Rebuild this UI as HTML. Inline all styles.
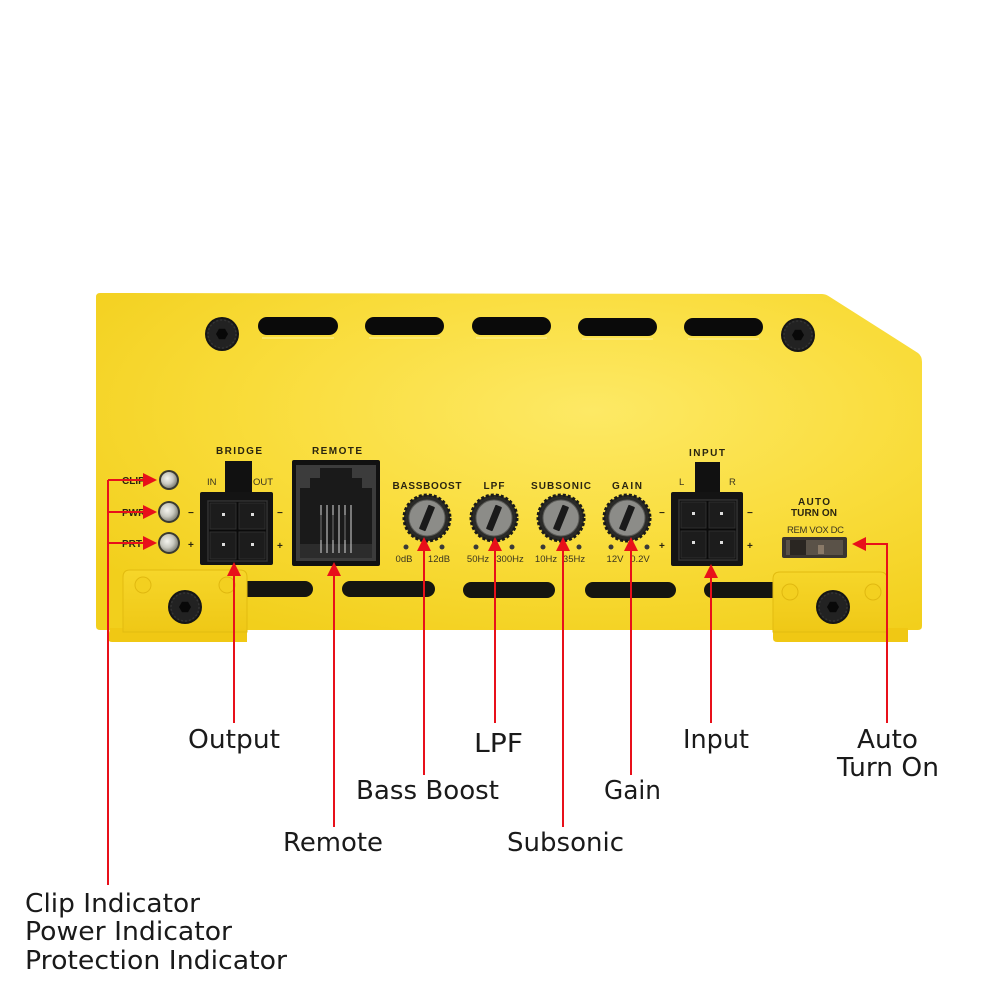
<!DOCTYPE html>
<html><head><meta charset="utf-8"><style>
html,body{margin:0;padding:0;background:#fff;}
svg{display:block;}
.lbl{font-family:"DejaVu Sans","Liberation Sans",sans-serif;font-size:26px;fill:#1a1a1a;}
.pt{font-family:"Liberation Sans",sans-serif;font-weight:bold;font-size:10px;fill:#2a2510;}
.pn{font-family:"Liberation Sans",sans-serif;font-size:9.5px;fill:#3a3520;}
</style></head><body>
<svg width="1000" height="1000" viewBox="0 0 1000 1000" xmlns="http://www.w3.org/2000/svg">
<defs>
<radialGradient id="yg" cx="0.6" cy="0.35" r="0.75">
<stop offset="0" stop-color="#fde965"/>
<stop offset="0.55" stop-color="#f9dc3a"/>
<stop offset="1" stop-color="#f2cf1c"/>
</radialGradient>
<linearGradient id="br" x1="0" y1="0" x2="0" y2="1">
<stop offset="0" stop-color="#f6d62a"/>
<stop offset="1" stop-color="#efc816"/>
</linearGradient>
<radialGradient id="led" cx="0.4" cy="0.4" r="0.6">
<stop offset="0" stop-color="#f4f4ee"/>
<stop offset="0.6" stop-color="#c9c9c0"/>
<stop offset="1" stop-color="#8a8a80"/>
</radialGradient>
<g id="screw">
<circle r="17" fill="#151515"/>
<circle r="15" fill="#222"/>
<circle r="14" fill="none" stroke="#333" stroke-width="1.5" stroke-dasharray="2 2"/>
<polygon points="6,0 3,5.2 -3,5.2 -6,0 -3,-5.2 3,-5.2" fill="#080808"/>
</g>
<g id="knob">
<circle r="23" fill="#2a2a28" stroke="#1a1a18" stroke-width="3" stroke-dasharray="3 2"/>
<circle r="18" fill="#8c8c88"/>
<circle r="18" fill="none" stroke="#5a5a56" stroke-width="1"/>
<rect x="-3.5" y="-13" width="7" height="26" rx="1" fill="#1a1a1a" transform="rotate(22)"/>
</g>
</defs>

<!-- body -->
<path d="M100,293 L822,294 Q826,294 830,297 L918,353 Q922,356 922,362 L922,626 Q922,630 918,630 L100,630 Q96,630 96,626 L96,297 Q96,293 100,293 Z" fill="url(#yg)"/>

<!-- top slots -->
<g fill="#0a0a0a">
<rect x="258" y="317" width="80" height="18" rx="9"/>
<rect x="365" y="317" width="79" height="18" rx="9"/>
<rect x="472" y="317" width="79" height="18" rx="9"/>
<rect x="578" y="318" width="79" height="18" rx="9"/>
<rect x="684" y="318" width="79" height="18" rx="9"/>
</g>
<g stroke="#fff08a" stroke-width="1.5" fill="none" opacity="0.8">
<path d="M262,338 H334"/><path d="M369,338 H440"/><path d="M476,338 H547"/><path d="M582,339 H653"/><path d="M688,339 H759"/>
</g>
<use href="#screw" x="222" y="334"/>
<use href="#screw" x="798" y="335"/>

<!-- lower slots -->
<g fill="#151510">
<rect x="240" y="581" width="73" height="16" rx="8"/>
<rect x="342" y="581" width="93" height="16" rx="8"/>
<rect x="463" y="582" width="92" height="16" rx="8"/>
<rect x="585" y="582" width="91" height="16" rx="8"/>
<rect x="704" y="582" width="90" height="16" rx="8"/>
</g>

<!-- left bracket -->
<path d="M110,628 L247,628 L247,642 L112,642 Q108,642 108,638 Z" fill="#f0c814"/>
<path d="M130,570 L240,570 Q247,570 247,577 L247,632 L123,632 L123,577 Q123,570 130,570 Z" fill="url(#br)" stroke="#e2bb10" stroke-width="1"/>
<circle cx="143" cy="585" r="8" fill="#f3d020" stroke="#e0b810" stroke-width="1"/>
<circle cx="227" cy="585" r="8" fill="#f3d020" stroke="#e0b810" stroke-width="1"/>
<use href="#screw" x="185" y="607"/>

<!-- right bracket -->
<path d="M773,628 L908,628 L908,642 L777,642 Q773,642 773,638 Z" fill="#f0c814"/>
<path d="M780,572 L880,572 Q887,572 887,579 L887,632 L773,632 L773,579 Q773,572 780,572 Z" fill="url(#br)" stroke="#e2bb10" stroke-width="1"/>
<circle cx="790" cy="592" r="8" fill="#f3d020" stroke="#e0b810" stroke-width="1"/>
<circle cx="873" cy="592" r="8" fill="#f3d020" stroke="#e0b810" stroke-width="1"/>
<use href="#screw" x="833" y="607"/>

<!-- LEDs -->
<g>
<circle cx="169" cy="480" r="10" fill="#3a3a30"/><circle cx="169" cy="480" r="8" fill="url(#led)"/>
<circle cx="169" cy="512" r="11" fill="#3a3a30"/><circle cx="169" cy="512" r="9" fill="url(#led)"/>
<circle cx="169" cy="543" r="11" fill="#3a3a30"/><circle cx="169" cy="543" r="9" fill="url(#led)"/>
</g>
<text class="pt" x="122" y="484">CLIP</text>
<text class="pt" x="122" y="516">PWR</text>
<text class="pt" x="122" y="547">PRT</text>
<text class="pt" x="188" y="516" font-size="13">−</text>
<text class="pt" x="188" y="548" font-size="13">+</text>

<!-- BRIDGE connector -->
<text class="pt" x="239" y="454" text-anchor="middle" textLength="46">BRIDGE</text>
<text class="pn" x="207" y="485">IN</text>
<text class="pn" x="253" y="485">OUT</text>
<rect x="225" y="461" width="27" height="34" fill="#111"/>
<rect x="200" y="492" width="73" height="73" rx="2" fill="#141414"/>
<rect x="208" y="501" width="59" height="60" fill="#0a0a0a" stroke="#333" stroke-width="1.5"/>
<rect x="210" y="503" width="26" height="26" fill="#1c1c1c" stroke="#2e2e2e"/>
<rect x="239" y="503" width="26" height="26" fill="#1c1c1c" stroke="#2e2e2e"/>
<rect x="210" y="532" width="26" height="27" fill="#1c1c1c" stroke="#2e2e2e"/>
<rect x="239" y="532" width="26" height="27" fill="#1c1c1c" stroke="#2e2e2e"/>
<g fill="#ddd"><rect x="222" y="513" width="3" height="3"/><rect x="251" y="513" width="3" height="3"/><rect x="222" y="543" width="3" height="3"/><rect x="251" y="543" width="3" height="3"/></g>
<text class="pt" x="277" y="516" font-size="13">−</text>
<text class="pt" x="277" y="549" font-size="13">+</text>

<!-- REMOTE jack -->
<text class="pt" x="337" y="454" text-anchor="middle" textLength="50">REMOTE</text>
<rect x="292" y="460" width="88" height="106" rx="2" fill="#111"/>
<rect x="296" y="465" width="80" height="96" fill="#3c3c3c"/>
<path d="M320,468 H352 V478 H362 V488 H372 V558 H300 V488 H310 V478 H320 Z" fill="#1a1a1a"/>
<rect x="300" y="544" width="72" height="14" fill="#2c2c2c"/>
<g stroke="#bbb" stroke-width="1.2">
<line x1="321" y1="505" x2="321" y2="553"/><line x1="327" y1="505" x2="327" y2="553"/><line x1="333" y1="505" x2="333" y2="553"/><line x1="339" y1="505" x2="339" y2="553"/><line x1="345" y1="505" x2="345" y2="553"/><line x1="351" y1="505" x2="351" y2="553"/>
</g>
<g stroke="#555" stroke-width="1"><line x1="321" y1="515" x2="321" y2="540"/><line x1="333" y1="515" x2="333" y2="540"/><line x1="345" y1="515" x2="345" y2="540"/></g>

<!-- knobs -->
<text class="pt" x="427" y="489" text-anchor="middle" textLength="69">BASSBOOST</text>
<text class="pt" x="494" y="489" text-anchor="middle" textLength="21">LPF</text>
<text class="pt" x="561" y="489" text-anchor="middle" textLength="60">SUBSONIC</text>
<text class="pt" x="627" y="489" text-anchor="middle" textLength="30">GAIN</text>
<use href="#knob" x="427" y="518"/>
<use href="#knob" x="494" y="518"/>
<use href="#knob" x="561" y="518"/>
<use href="#knob" x="627" y="518"/>
<g fill="#3a3a38">
<circle cx="406" cy="547" r="2.5"/><circle cx="442" cy="547" r="2.5"/>
<circle cx="476" cy="547" r="2.5"/><circle cx="512" cy="547" r="2.5"/>
<circle cx="543" cy="547" r="2.5"/><circle cx="579" cy="547" r="2.5"/>
<circle cx="611" cy="547" r="2.5"/><circle cx="647" cy="547" r="2.5"/>
</g>
<g class="pn" text-anchor="middle">
<text x="404" y="562">0dB</text><text x="439" y="562">12dB</text>
<text x="478" y="562">50Hz</text><text x="510" y="562">300Hz</text>
<text x="546" y="562">10Hz</text><text x="574" y="562">35Hz</text>
<text x="615" y="562">12V</text><text x="640" y="562">0.2V</text>
</g>
<text class="pt" x="659" y="516" font-size="13">−</text>
<text class="pt" x="659" y="549" font-size="13">+</text>

<!-- INPUT connector -->
<text class="pt" x="707" y="456" text-anchor="middle" textLength="36">INPUT</text>
<text class="pn" x="679" y="485">L</text>
<text class="pn" x="729" y="485">R</text>
<rect x="695" y="462" width="25" height="33" fill="#111"/>
<rect x="671" y="492" width="72" height="74" rx="2" fill="#141414"/>
<rect x="679" y="500" width="58" height="60" fill="#0a0a0a" stroke="#333" stroke-width="1.5"/>
<rect x="681" y="502" width="25" height="26" fill="#1c1c1c" stroke="#2e2e2e"/>
<rect x="709" y="502" width="26" height="26" fill="#1c1c1c" stroke="#2e2e2e"/>
<rect x="681" y="531" width="25" height="27" fill="#1c1c1c" stroke="#2e2e2e"/>
<rect x="709" y="531" width="26" height="27" fill="#1c1c1c" stroke="#2e2e2e"/>
<g fill="#ddd"><rect x="692" y="512" width="3" height="3"/><rect x="720" y="512" width="3" height="3"/><rect x="692" y="541" width="3" height="3"/><rect x="720" y="541" width="3" height="3"/></g>
<text class="pt" x="747" y="516" font-size="13">−</text>
<text class="pt" x="747" y="549" font-size="13">+</text>

<!-- AUTO TURN ON -->
<text class="pt" x="814" y="505" text-anchor="middle" textLength="32">AUTO</text>
<text class="pt" x="814" y="516" text-anchor="middle" textLength="46">TURN ON</text>
<text class="pn" x="787" y="533" textLength="57">REM VOX DC</text>
<rect x="782" y="537" width="65" height="21" rx="2" fill="#3a3530"/>
<rect x="786" y="540" width="57" height="15" fill="#5a5248"/>
<rect x="790" y="540" width="16" height="15" fill="#2a2622"/>
<rect x="818" y="545" width="6" height="9" fill="#8a7a68"/>

<!-- red callouts -->
<g stroke="#e8101a" stroke-width="2" fill="none">
<line x1="108" y1="480" x2="108" y2="885"/>
<line x1="108" y1="480" x2="145" y2="480"/>
<line x1="108" y1="512" x2="145" y2="512"/>
<line x1="108" y1="543" x2="145" y2="543"/>
<line x1="234" y1="572" x2="234" y2="723"/>
<line x1="334" y1="572" x2="334" y2="827"/>
<line x1="424" y1="548" x2="424" y2="775"/>
<line x1="495" y1="548" x2="495" y2="723"/>
<line x1="563" y1="548" x2="563" y2="827"/>
<line x1="631" y1="548" x2="631" y2="775"/>
<line x1="711" y1="574" x2="711" y2="723"/>
<line x1="864" y1="544" x2="887" y2="544"/>
<line x1="887" y1="543" x2="887" y2="723"/>
</g>
<g fill="#e8101a">
<polygon points="157,480 143,473 143,487"/>
<polygon points="157,512 143,505 143,519"/>
<polygon points="157,543 143,536 143,550"/>
<polygon points="234,562 227,576 241,576"/>
<polygon points="334,562 327,576 341,576"/>
<polygon points="424,537 417,551 431,551"/>
<polygon points="495,537 488,551 502,551"/>
<polygon points="563,537 556,551 570,551"/>
<polygon points="631,537 624,551 638,551"/>
<polygon points="711,564 704,578 718,578"/>
<polygon points="852,544 866,537 866,551"/>
</g>

<!-- labels -->
<text class="lbl" x="188" y="748" textLength="92" lengthAdjust="spacingAndGlyphs">Output</text>
<text class="lbl" x="474" y="752" textLength="49" lengthAdjust="spacingAndGlyphs">LPF</text>
<text class="lbl" x="683" y="748" textLength="66" lengthAdjust="spacingAndGlyphs">Input</text>
<text class="lbl" x="857" y="748" textLength="61" lengthAdjust="spacingAndGlyphs">Auto</text>
<text class="lbl" x="837" y="776" textLength="102" lengthAdjust="spacingAndGlyphs">Turn On</text>
<text class="lbl" x="356" y="799" textLength="143" lengthAdjust="spacingAndGlyphs">Bass Boost</text>
<text class="lbl" x="604" y="799" textLength="57" lengthAdjust="spacingAndGlyphs">Gain</text>
<text class="lbl" x="283" y="851" textLength="100" lengthAdjust="spacingAndGlyphs">Remote</text>
<text class="lbl" x="507" y="851" textLength="117" lengthAdjust="spacingAndGlyphs">Subsonic</text>
<text class="lbl" x="25" y="912" textLength="175" lengthAdjust="spacingAndGlyphs">Clip Indicator</text>
<text class="lbl" x="25" y="940" textLength="207" lengthAdjust="spacingAndGlyphs">Power Indicator</text>
<text class="lbl" x="25" y="969" textLength="262" lengthAdjust="spacingAndGlyphs">Protection Indicator</text>
</svg>
</body></html>
